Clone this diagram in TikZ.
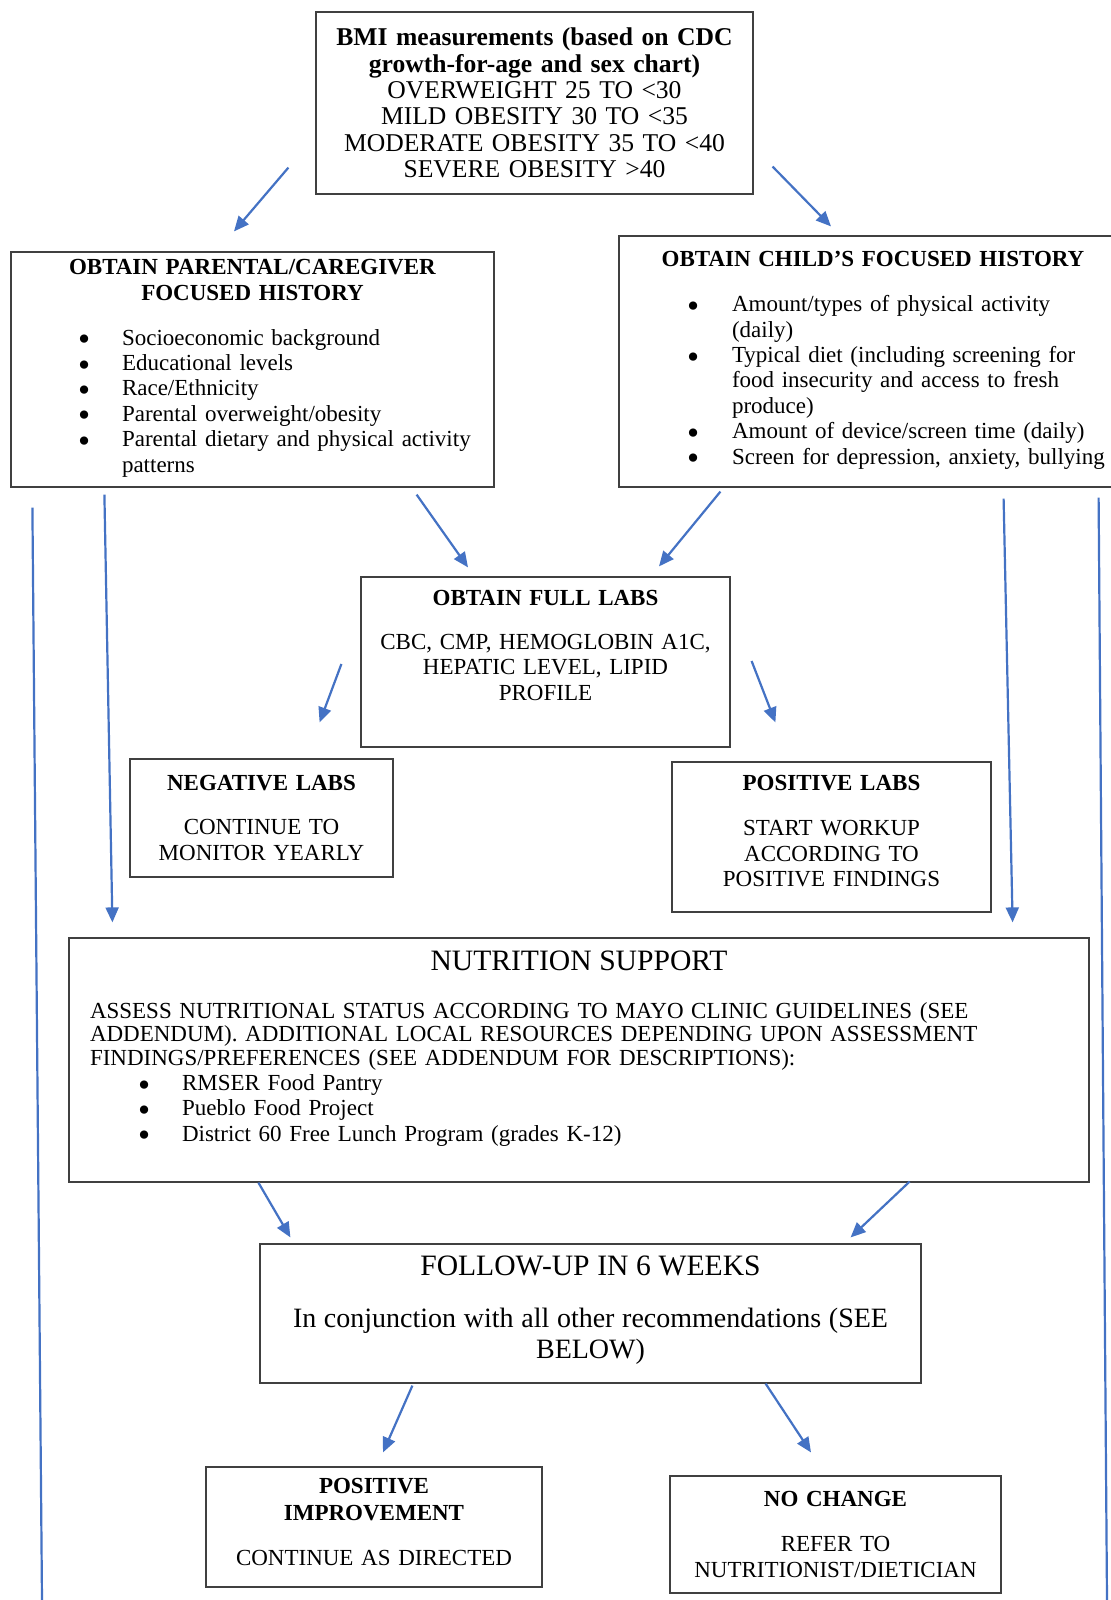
\documentclass[tikz,border=0pt]{standalone}
\usepackage{fontspec}
\setmainfont{Liberation Serif}
\usepackage{tikz}
\usetikzlibrary{shapes,arrows.meta,calc}
\definecolor{flowblue}{HTML}{4472C4}
\newcommand{\bmifont}{\fontsize{12.8}{13.15}\selectfont}
\newcommand{\boxfont}{\fontsize{11.5}{12.7}\selectfont}
\newcommand{\headfont}{\fontsize{14.8}{16}\selectfont}
\newcommand{\padb}[1]{\rule[-#1]{0pt}{#1}}
\newcommand{\bpt}{\raisebox{-2.8pt}[5pt][0pt]{\scalebox{1.5}{\textbullet}}}
\tikzstyle{stage} = [rectangle, draw=black!75, line width=0.6pt, inner sep=0pt,
    font=\boxfont]
\tikzstyle{line} = [draw, flowblue, line width=1.1pt, -{Triangle[length=7.5pt,width=6.5pt]}]
\tikzstyle{rail} = [draw, flowblue, line width=1.1pt]

\begin{document}
\begin{tikzpicture}[x=0.5pt, y=-0.5pt]
    \fill [white] (0,0) rectangle (1111,1600);
    \useasboundingbox (0,0) rectangle (1111,1600);

    % Place nodes
    % Screening
    \node [stage, text width=218.5pt, align=center, minimum height=91pt, font=\bmifont] (bmi) at (534.5,103)
        {\textbf{BMI measurements (based on CDC}\\\textbf{growth-for-age and sex chart)}\\
         OVERWEIGHT 25 TO <30\\MILD OBESITY 30 TO <35\\MODERATE OBESITY 35 TO <40\\SEVERE OBESITY >40};

    % Histories
    \node [stage, text width=241.5pt, align=left, minimum height=117.5pt] (parent) at (252.5,369.5)
        {{\centering\textbf{OBTAIN PARENTAL/CAREGIVER}\\\textbf{FOCUSED HISTORY}\par}
         \vspace{9.8pt}
         \hspace*{33.5pt}\begin{tabular}[t]{@{}p{22pt}@{}l@{}}
         \bpt & Socioeconomic background\\
         \bpt & Educational levels\\
         \bpt & Race/Ethnicity\\
         \bpt & Parental overweight/obesity\\
         \bpt & Parental dietary and physical activity\\
              & patterns
         \end{tabular}};
    \node [stage, text width=254pt, align=left, minimum height=125.5pt] (child) at (873,361.5)
        {{\centering\textbf{OBTAIN CHILD'S FOCUSED HISTORY}\par}
         \vspace{9.8pt}
         \hspace*{34pt}\begin{tabular}[t]{@{}p{22.5pt}@{}l@{}}
         \bpt & Amount/types of physical activity\\
              & (daily)\\
         \bpt & Typical diet (including screening for\\
              & food insecurity and access to fresh\\
              & produce)\\
         \bpt & Amount of device/screen time (daily)\\
         \bpt & Screen for depression, anxiety, bullying
         \end{tabular}};

    % Labs
    \node [stage, text width=184.5pt, align=center, minimum height=85pt] (labs) at (545.5,662)
        {\textbf{OBTAIN FULL LABS}\\[9.3pt]CBC, CMP, HEMOGLOBIN A1C,\\HEPATIC LEVEL, LIPID\\PROFILE\padb{17pt}};
    \node [stage, text width=131.5pt, align=center, minimum height=59pt] (neg) at (261.5,818)
        {\textbf{NEGATIVE LABS}\\[9.3pt]CONTINUE TO\\MONITOR YEARLY};
    \node [stage, text width=159.5pt, align=center, minimum height=75pt] (pos) at (831.5,837)
        {\textbf{POSITIVE LABS}\\[9.8pt]START WORKUP\\ACCORDING TO\\POSITIVE FINDINGS\padb{6pt}};

    % Support
    \node [stage, text width=510pt, align=left, minimum height=122pt] (nutri) at (579,1060)
        {{\centering\headfont NUTRITION SUPPORT\par}
         \vspace{12.3pt}
         {\leftskip=10.5pt \fontsize{11.5}{11.7}\selectfont
          ASSESS NUTRITIONAL STATUS ACCORDING TO MAYO CLINIC GUIDELINES (SEE\\
          ADDENDUM). ADDITIONAL LOCAL RESOURCES DEPENDING UPON ASSESSMENT\\
          FINDINGS/PREFERENCES (SEE ADDENDUM FOR DESCRIPTIONS):\par}
         \hspace*{34.5pt}\begin{tabular}[t]{@{}p{22pt}@{}l@{}}
         \bpt & RMSER Food Pantry\\
         \bpt & Pueblo Food Project\\
         \bpt & District 60 Free Lunch Program (grades K-12)\padb{14pt}
         \end{tabular}};

    % Follow-up
    \node [stage, text width=330.5pt, align=center, minimum height=69.5pt] (follow) at (590.5,1313.5)
        {{\headfont FOLLOW-UP IN 6 WEEKS\par}
         \vspace{10.5pt}
         {\fontsize{14}{15.5}\selectfont In conjunction with all other recommendations (SEE\\BELOW)\padb{6pt}\par}};
    \node [stage, text width=168pt, align=center, minimum height=60pt] (improve) at (374,1527)
        {\textbf{POSITIVE}\\[0.8pt]\textbf{IMPROVEMENT}\\[9.8pt]CONTINUE AS DIRECTED\padb{5pt}};
    \node [stage, text width=165.5pt, align=center, minimum height=58.5pt] (nochange) at (835.5,1534.5)
        {\textbf{NO CHANGE}\\[9.8pt]REFER TO\\NUTRITIONIST/DIETICIAN};

    % Draw edges
    \coordinate (leftfoot) at (42,1600);
    \coordinate (rightfoot) at (1107,1600);

    % Screening to histories
    \path [line] ($(bmi.south west)+(-27,-27)$) -- ($(parent.north)+(-18.5,-20)$);
    \path [line] ($(bmi.south east)+(19,-28)$) -- ($(child.north)+(-42,-9)$);

    % Histories to labs
    \path [line] ($(parent.south east)+(-78,7)$) -- ($(labs.north)+(-77.5,-9)$);
    \path [line] ($(child.south west)+(102,4)$) -- ($(labs.north)+(113.5,-10)$);
    \path [line] ($(labs.west)+(-19,2)$) -- ($(neg.north east)+(-74,-36)$);
    \path [line] ($(labs.east)+(21,-1)$) -- ($(pos.north west)+(104,-39)$);

    % Histories to support
    \path [line] ($(parent.south west)+(94,7)$) -- ($(nutri.north west)+(44,-15)$);
    \path [line] ($(child.south east)+(-124,11)$) -- ($(nutri.north east)+(-77,-15)$);
    \path [rail] ($(parent.south west)+(22,20)$) -- (leftfoot);
    \path [rail] ($(child.south east)+(-29,10)$) -- (rightfoot);

    % Support to follow-up
    \path [line] ($(nutri.south west)+(190,0)$) -- ($(follow.north west)+(31,-6)$);
    \path [line] ($(nutri.south east)+(-180,-1)$) -- ($(follow.north east)+(-71,-6)$);
    \path [line] ($(follow.south west)+(153,2)$) -- ($(improve.north)+(9,-14)$);
    \path [line] ($(follow.south east)+(-156,0)$) -- ($(nochange.north)+(-24.5,-23)$);
\end{tikzpicture}
\end{document}
